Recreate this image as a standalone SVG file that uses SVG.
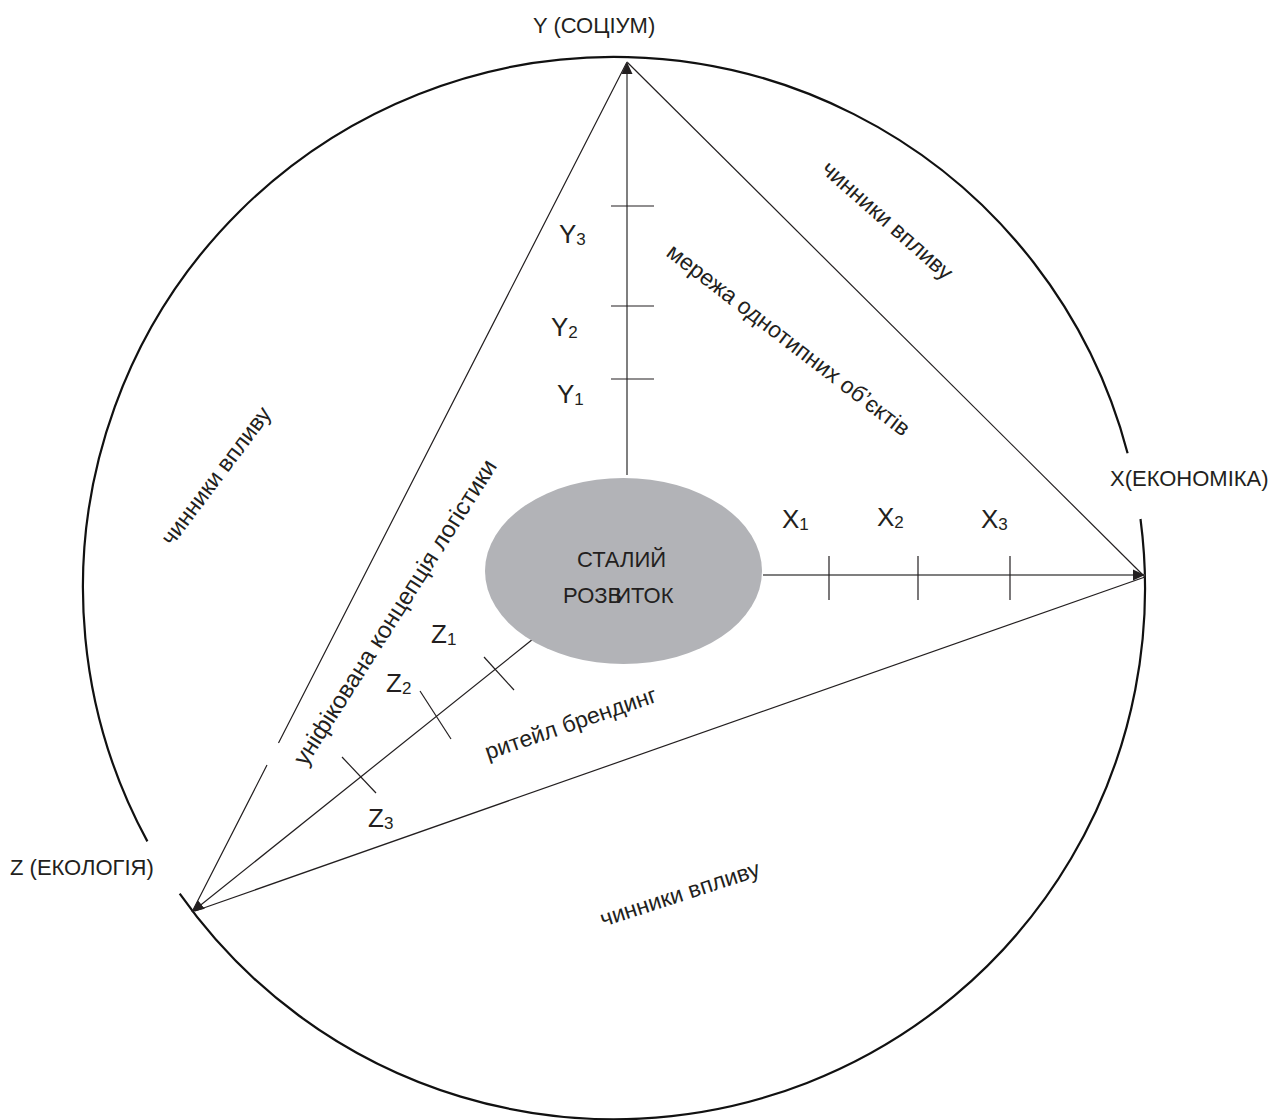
<svg xmlns="http://www.w3.org/2000/svg" width="1286" height="1120" viewBox="0 0 1286 1120">
<style>
text{font-family:"Liberation Sans",Arial,"Noto Sans",sans-serif;fill:#231f20;font-size:22px}
.big{font-size:26px}
.sub{font-size:17px}
.rt{font-size:23px}
.ln{stroke:#231f20;stroke-width:1.2;fill:none}
.ax{stroke:#555;stroke-width:1.5;fill:none}
.tk{stroke:#231f20;stroke-width:1.2;fill:none}
</style>
<defs>
<marker id="ah" viewBox="0 0 12 12" refX="12" refY="6" markerWidth="12" markerHeight="12" markerUnits="userSpaceOnUse" orient="auto">
<path d="M0,0.5 L12,6 L0,11.5 z" fill="#231f20"/>
</marker>
</defs>
<g id="circle">
<path d="M1140.5,519 A531,531 0 0 1 179.7,893.7" fill="none" stroke="#111" stroke-width="2.2"/>
<path d="M147.4,841.4 A531,531 0 1 1 1127.6,453.2" fill="none" stroke="#111" stroke-width="2.2"/>
</g>
<g id="connectors">
<line class="ln" x1="627" y1="62" x2="1145" y2="577"/>
<path class="ln" d="M627,62 L278.5,743 M267,765 L192,912"/>
<line class="ln" x1="195" y1="911" x2="1145" y2="577"/>
<line class="ax" x1="627" y1="475" x2="627" y2="62" marker-end="url(#ah)"/>
<line class="ax" x1="763" y1="575" x2="1145" y2="575" marker-end="url(#ah)"/>
<line class="ln" x1="533" y1="639" x2="192" y2="912" marker-end="url(#ah)"/>
<g id="ticks">
<line class="tk" x1="611" y1="206" x2="654" y2="206"/>
<line class="tk" x1="611" y1="306" x2="654" y2="306"/>
<line class="tk" x1="611" y1="379" x2="654" y2="379"/>
<line class="tk" x1="829" y1="556" x2="829" y2="600"/>
<line class="tk" x1="918" y1="556" x2="918" y2="600"/>
<line class="tk" x1="1010" y1="556" x2="1010" y2="600"/>
<line class="tk" x1="484" y1="657" x2="514" y2="690"/>
<line class="tk" x1="420" y1="691" x2="451" y2="739"/>
<line class="tk" x1="342" y1="757" x2="376" y2="793"/>
</g>
</g>
<g id="center">
<ellipse cx="623.5" cy="571" rx="138.5" ry="93" fill="#b2b3b7"/>
<text x="577" y="567">СТАЛИЙ</text>
<text x="563" y="603">РОЗВ<tspan dx="-7">ИТОК</tspan></text>
</g>
<g id="labels">
<text x="533" y="33">Y (СОЦІУМ)</text>
<text x="1110" y="486">X(ЕКОНОМІКА)</text>
<text x="10" y="875">Z (ЕКОЛОГІЯ)</text>
</g>
<g id="y-marks">
<text class="big" x="559" y="243">Y<tspan class="sub" dy="2">3</tspan></text>
<text class="big" x="551" y="336">Y<tspan class="sub" dy="2">2</tspan></text>
<text class="big" x="557" y="403">Y<tspan class="sub" dy="2">1</tspan></text>
</g>
<g id="x-marks">
<text class="big" x="782" y="528">X<tspan class="sub" dy="2">1</tspan></text>
<text class="big" x="877" y="526">X<tspan class="sub" dy="2">2</tspan></text>
<text class="big" x="981" y="528">X<tspan class="sub" dy="2">3</tspan></text>
</g>
<g id="z-marks">
<text class="big" x="431" y="643">Z<tspan class="sub" dy="2">1</tspan></text>
<text class="big" x="386" y="692">Z<tspan class="sub" dy="2">2</tspan></text>
<text class="big" x="368" y="827">Z<tspan class="sub" dy="2">3</tspan></text>
</g>
<g id="rotated">
<text class="rt" transform="translate(665,255) rotate(37.5)">мережа однотипних об’єктів</text>
<text class="rt" transform="translate(820,171) rotate(41.5)">чинники впливу</text>
<text class="rt" transform="translate(172,547) rotate(-53)">чинники впливу</text>
<text transform="translate(306,767) rotate(-57.5)" style="font-size:24px">уніфікована концепція логістики</text>
<text class="rt" transform="translate(488,760) rotate(-19)">ритейл брендинг</text>
<text class="rt" transform="translate(603,927) rotate(-18)">чинники впливу</text>
</g>
</svg>
